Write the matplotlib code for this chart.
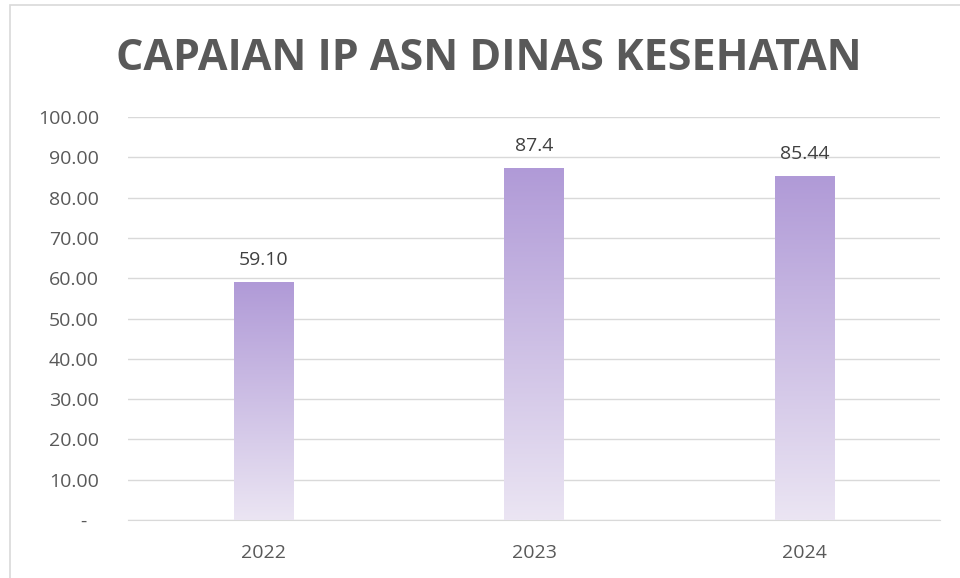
import numpy as np
import matplotlib.pyplot as plt
import matplotlib.transforms as mtransforms
from matplotlib.patches import Rectangle
from matplotlib.colors import LinearSegmentedColormap

years = ['2022', '2023', '2024']
values = [59.10, 87.4, 85.44]
value_labels = ['59.10', '87.4', '85.44']
yticks = [0, 10, 20, 30, 40, 50, 60, 70, 80, 90, 100]
ytick_labels = ['-'] + ['%.2f' % t for t in yticks[1:]]

plt.rcParams['font.family'] = ['Open Sans', 'DejaVu Sans']

fig = plt.figure(figsize=(9.6, 5.78), dpi=100)
ax = fig.add_axes([128/960, 1-520/578, 812/960, 403/578])

# chart border (only left/top visible in the crop)
fig.patches.append(Rectangle((10/960, -0.1), 1.2, 1.1 - 5/578, transform=fig.transFigure,
                             fill=False, edgecolor='#d9d9d9', linewidth=1.2))

grad = LinearSegmentedColormap.from_list('g', ['#ebe5f3', '#b09ad7'])
x = np.arange(len(years))
width = 0.22
bars = ax.bar(x, values, width, color='none', zorder=3)
for b in bars:
    x0, y0 = b.get_x(), b.get_y()
    w, h = b.get_width(), b.get_height()
    img = np.linspace(0, 1, 256).reshape(-1, 1)
    im = ax.imshow(img, cmap=grad, aspect='auto', origin='lower',
                   extent=[x0, x0 + w, y0, y0 + h], zorder=3)
    im.set_clip_path(b)

for xi, v, lab in zip(x, values, value_labels):
    ax.text(xi, v + 3.2, lab, ha='center', va='bottom', fontsize=14, color='#404040')

ax.set_xlim(-0.5, 2.5)
ax.set_ylim(0, 100)
ax.set_yticks(yticks)
ax.set_yticklabels(ytick_labels)
ax.set_xticks(x)
ax.set_xticklabels(years)
ax.tick_params(length=0, labelsize=14, labelcolor='#595959')
ax.tick_params(axis='y', pad=21)
ax.tick_params(axis='x', pad=17)
ax.grid(axis='y', color='#d9d9d9', linewidth=1, zorder=0)
for s in ['top', 'right', 'left']:
    ax.spines[s].set_visible(False)
ax.spines['bottom'].set_color('#d9d9d9')
ax.set_axisbelow(True)

# accounting-style dash for zero sits a bit left of the number column
zero_lab = ax.get_yticklabels()[0]
zero_lab.set_transform(zero_lab.get_transform() +
                       mtransforms.ScaledTranslation(-0.12, 0, fig.dpi_scale_trans))

fig.text(489/960, 1-59/578, 'CAPAIAN IP ASN DINAS KESEHATAN', ha='center', va='center',
         fontsize=31, fontweight='bold', color='#595959')

fig.savefig('out.png', dpi=100)
